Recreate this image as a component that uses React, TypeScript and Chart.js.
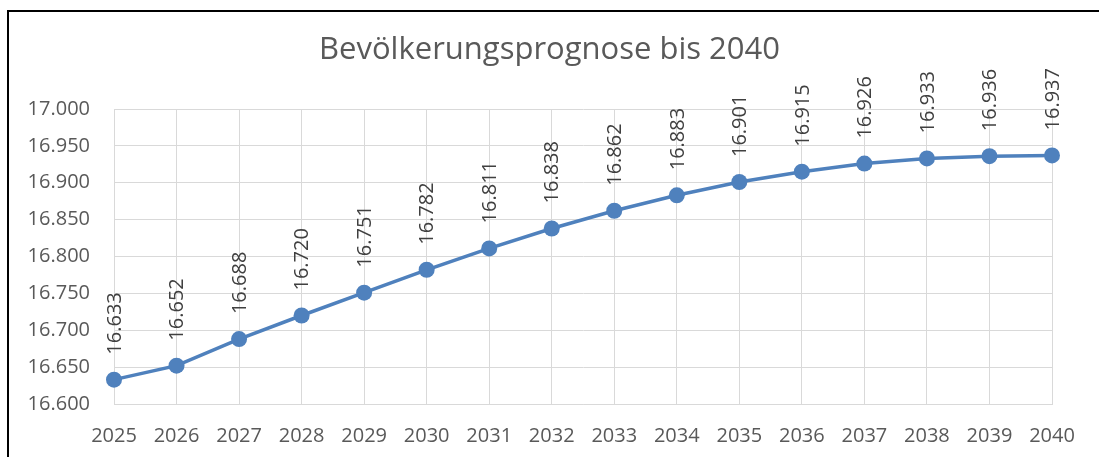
import React, { useEffect, useRef } from "react";
import { Chart, registerables } from "chart.js";

Chart.register(...registerables);

const title = "Bevölkerungsprognose bis 2040";
const years = ["2025", "2026", "2027", "2028", "2029", "2030", "2031", "2032", "2033", "2034", "2035", "2036", "2037", "2038", "2039", "2040"];
const population = [16633, 16652, 16688, 16720, 16751, 16782, 16811, 16838, 16862, 16883, 16901, 16915, 16926, 16933, 16936, 16937];
const yMin = 16600;
const yMax = 17000;
const yStep = 50;

const FONT = "'Open Sans', 'Noto Sans', sans-serif";
const LINE_COLOR = "#4F81BD";

function fmt(v: number): string {
  const n = Math.round(v);
  const th = Math.floor(n / 1000);
  const rest = String(n % 1000).padStart(3, "0");
  return th + "." + rest;
}

const titlePlugin = {
  id: "centeredTitle",
  afterDraw(chart: any) {
    const ctx = chart.ctx;
    ctx.save();
    ctx.fillStyle = "#595959";
    ctx.font = "31px " + FONT;
    ctx.textAlign = "center";
    ctx.textBaseline = "middle";
    ctx.fillText(title, chart.width / 2, 50);
    ctx.restore();
  },
};

const labelPlugin = {
  id: "rotatedLabels",
  afterDatasetsDraw(chart: any) {
    const ctx = chart.ctx;
    const meta = chart.getDatasetMeta(0);
    const data = chart.data.datasets[0].data as number[];
    ctx.save();
    ctx.fillStyle = "#404040";
    ctx.font = "20px " + FONT;
    ctx.textAlign = "left";
    ctx.textBaseline = "middle";
    meta.data.forEach((pt: any, i: number) => {
      ctx.save();
      ctx.translate(pt.x, pt.y - 25);
      ctx.rotate(-Math.PI / 2);
      ctx.fillText(fmt(data[i]), 0, 1);
      ctx.restore();
    });
    ctx.restore();
  },
};

export default function App() {
  const ref = useRef<HTMLCanvasElement | null>(null);
  useEffect(() => {
    if (!ref.current) return;
    const chart = new Chart(ref.current, {
      type: "line",
      data: {
        labels: years,
        datasets: [
          {
            data: population,
            borderColor: LINE_COLOR,
            backgroundColor: LINE_COLOR,
            borderWidth: 3.5,
            pointRadius: 8,
            pointBackgroundColor: LINE_COLOR,
            pointBorderColor: LINE_COLOR,
            pointBorderWidth: 0,
            tension: 0,
          },
        ],
      },
      options: {
        animation: false,
        responsive: false,
        layout: { padding: { left: 0, right: 47, top: 109, bottom: 0 } },
        plugins: {
          legend: { display: false },
          tooltip: { enabled: false },
          title: { display: false },
        },
        scales: {
          x: {
            offset: false,
            grid: { color: "#D9D9D9", lineWidth: 1, drawTicks: false },
            border: { color: "#D9D9D9" },
            ticks: {
              color: "#595959",
              font: { family: FONT, size: 20 },
              padding: 20,
              maxRotation: 0,
              autoSkip: false,
            },
            afterFit: (s: any) => {
              s.height = 53;
            },
          },
          y: {
            min: yMin,
            max: yMax,
            grid: { color: "#D9D9D9", lineWidth: 1, drawTicks: false },
            border: { color: "#D9D9D9" },
            ticks: {
              stepSize: yStep,
              color: "#595959",
              font: { family: FONT, size: 20 },
              padding: 24,
              callback: (v: any) => fmt(Number(v)),
            },
            afterFit: (s: any) => {
              s.width = 114;
            },
          },
        },
      },
      plugins: [labelPlugin, titlePlugin],
    });
    return () => chart.destroy();
  }, []);

  return (
    <div style={{ position: "fixed", left: 0, top: 0, width: 1099, height: 457, overflow: "hidden", background: "#fff" }}>
      <div
        style={{
          position: "absolute",
          left: 7,
          top: 10,
          width: 1200,
          height: 600,
          borderLeft: "2px solid #000",
          borderTop: "2px solid #000",
        }}
      />
      <canvas ref={ref} width={1099} height={457} style={{ position: "absolute", left: 0, top: 0 }} />
    </div>
  );
}
